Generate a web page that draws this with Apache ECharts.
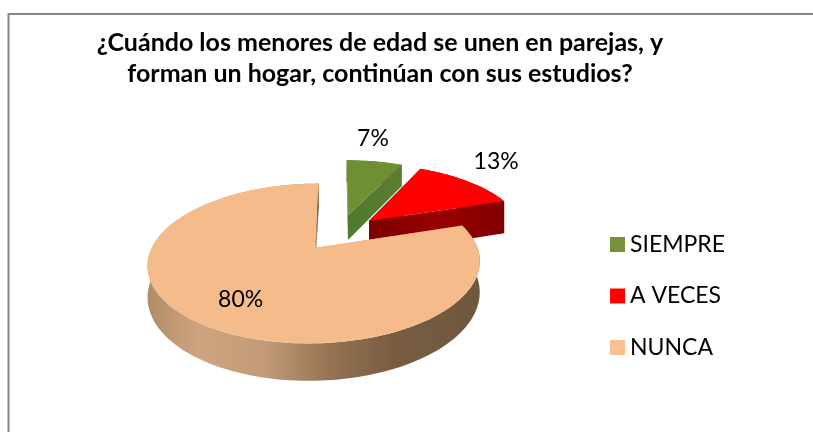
<!DOCTYPE html>
<html><head><meta charset="utf-8">
<style>html,body{margin:0;padding:0;background:#fff}#c{width:813px;height:432px}</style>
<script src="https://cdn.jsdelivr.net/npm/echarts@6/dist/echarts.min.js"></script>
</head><body><div id="c"></div>
<script>
const titleLines = ['¿Cuándo los menores de edad se unen en parejas, y', 'forman un hogar, continúan con sus estudios?'];
const categories = ['SIEMPRE', 'A VECES', 'NUNCA'];
const values = [7, 13, 80];

const topColors = ['#6f8f35', '#ff0000', '#f5bb8b'];
const legendColors = ['#76923c', '#ff0000', '#fac090'];
const wallColors = [
  [[0, '#4f7a2e'], [1, '#5c7d30']],
  [[0, '#7a0000'], [0.5, '#9a0000'], [1, '#800000']],
  [[0, '#b08c66'], [0.15, '#cfa37f'], [0.35, '#c39b78'], [0.55, '#957352'], [0.75, '#775c42'], [1, '#6f5840']]
];
const labelShift = [[-8, -10], [3, -9], [-14, 14]];
const labelRadius = [1.3, 1.3, 0.55];
const sliceDepth = [26, 35, 29];

// Perspective projection of the pie's unit disc onto the page
const P = {gx: 339.5, gy: 232.5, A: 156.5, B: 71, p: 0.186, explode: 0.26};
function project(u, v) {
  const d = 1 - P.p * v;
  return [P.gx + P.A * u / d, P.gy + P.B * v / d, 1 / d];
}
const total = values.reduce((a, b) => a + b, 0);
const starts = values.map((_, i) => values.slice(0, i).reduce((a, b) => a + b, 0) / total * Math.PI * 2);
const ends = values.map((_, i) => values.slice(0, i + 1).reduce((a, b) => a + b, 0) / total * Math.PI * 2);

function sliceGeom(i) {
  const a0 = starts[i], a1 = ends[i], mid = (a0 + a1) / 2;
  const cu = Math.sin(mid) * P.explode, cv = -Math.cos(mid) * P.explode;
  const arc = [];
  const n = Math.max(8, Math.round((a1 - a0) / 0.03));
  for (let k = 0; k <= n; k++) {
    const a = a0 + (a1 - a0) * k / n;
    arc.push(project(cu + Math.sin(a), cv - Math.cos(a)));
  }
  return {apex: project(cu, cv), arc, cu, cv, mid};
}
const xy = q => [q[0], q[1]];
function grad(stops) {
  return {type: 'linear', x: 0, y: 0, x2: 1, y2: 0,
    colorStops: stops.map(s => ({offset: s[0], color: s[1]}))};
}
function renderSlice(i) {
  const g = sliceGeom(i);
  const low = q => [q[0], q[1] + sliceDepth[i] * q[2]];
  const wallFill = grad(wallColors[i]);
  const first = g.arc[0], last = g.arc[g.arc.length - 1];
  const children = [];
  const outer = g.arc.map(xy).concat(g.arc.slice().reverse().map(low));
  children.push({type: 'polygon', shape: {points: outer}, style: {fill: wallFill}});
  children.push({type: 'polygon', shape: {points: [xy(g.apex), xy(first), low(first), low(g.apex)]}, style: {fill: wallFill}});
  children.push({type: 'polygon', shape: {points: [xy(g.apex), xy(last), low(last), low(g.apex)]}, style: {fill: wallFill}});
  children.push({type: 'polygon', shape: {points: [xy(g.apex)].concat(g.arc.map(xy))}, style: {fill: topColors[i]}});
  const r = labelRadius[i];
  const lp = project(g.cu + Math.sin(g.mid) * r, g.cv - Math.cos(g.mid) * r);
  children.push({type: 'text', z2: 10, style: {
    x: lp[0] + labelShift[i][0], y: lp[1] + labelShift[i][1], text: values[i] + '%',
    fill: '#000', font: '23px Lato', align: 'center', verticalAlign: 'middle'}});
  return {type: 'group', children};
}
const series = categories.map((name, i) => ({
  type: 'custom', name, coordinateSystem: 'none', silent: true, z: 2 + i,
  itemStyle: {color: legendColors[i]},
  data: [{name, value: values[i]}],
  renderItem: () => renderSlice(i)
}));
const chart = echarts.init(document.getElementById('c'), null, {renderer: 'canvas'});
chart.setOption({
  animation: false,
  backgroundColor: '#fff',
  title: {text: titleLines.join('\n'), left: 380, top: 27, padding: 0, textAlign: 'center',
    textStyle: {fontFamily: 'Lato', fontWeight: 'bold', fontSize: 25, lineHeight: 31, color: '#000'}},
  legend: {orient: 'vertical', left: 610, top: 233, padding: 0, icon: 'rect', itemWidth: 15, itemHeight: 15,
    itemGap: 28.5, itemStyle: {borderWidth: 0}, textStyle: {fontFamily: 'Lato', fontSize: 23, color: '#000'},
    data: categories, selectedMode: false},
  graphic: [{type: 'rect', silent: true, z: -1, shape: {x: 8.5, y: 14, width: 820, height: 440},
    style: {fill: 'none', stroke: '#868686', lineWidth: 2}}],
  series
});
</script></body></html>
